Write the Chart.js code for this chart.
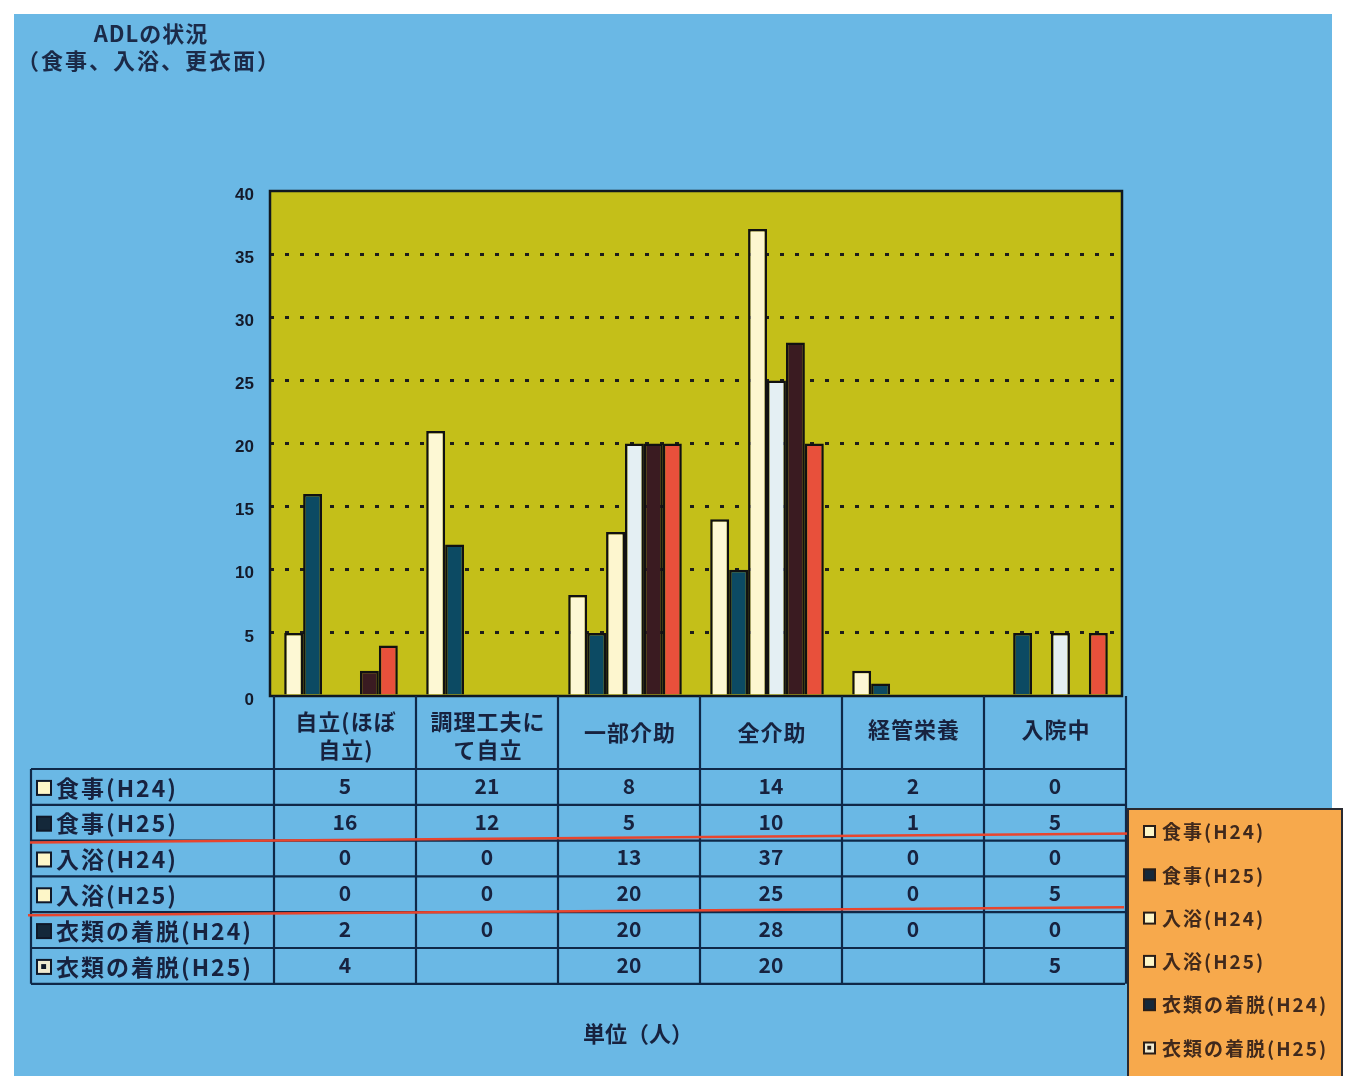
<!DOCTYPE html>
<html>
<head>
<meta charset="utf-8">
<script src="https://cdn.jsdelivr.net/npm/chart.js"></script>
<style>
  body { margin: 0; background: #fff; }
  canvas { display: block; }
</style>
</head>
<body>
<canvas id="chart" width="1354" height="1076"></canvas>
<script>
// categories (header row of the table)
const categories = ['自立(ほぼ自立)', '調理工夫にて自立', '一部介助', '全介助', '経管栄養', '入院中'];
const headerLines = [['自立(ほぼ', '自立)'], ['調理工夫に', 'て自立'], ['一部介助'], ['全介助'], ['経管栄養'], ['入院中']];

// series values (人)
const mealH24 = [5, 21, 8, 14, 2, 0];
const mealH25 = [16, 12, 5, 10, 1, 5];
const bathH24 = [0, 0, 13, 37, 0, 0];
const bathH25 = [0, 0, 20, 25, 0, 5];
const dressH24 = [2, 0, 20, 28, 0, 0];
const dressH25 = [4, null, 20, 20, null, 5];

const seriesLabels = ['食事(H24)', '食事(H25)', '入浴(H24)', '入浴(H25)', '衣類の着脱(H24)', '衣類の着脱(H25)'];
const yTicks = [0, 5, 10, 15, 20, 25, 30, 35, 40];

const colors = ['#fdf8d4', '#0c4a63', '#fdf6cf', '#e4eff3', '#3a1b21', '#e8503b'];
// legend square styles in the table / legend box
const boxColors = ['#fdf6c8', '#14283a', '#fdf6c8', '#fdf6c8', '#14283a', '#f0ead0'];

const ink = '#17223f';
const lineCol = '#0f2848';
const jp = '"Noto Sans CJK JP", "Noto Sans", sans-serif';

const series = [mealH24, mealH25, bathH24, bathH25, dressH24, dressH25];

function marker(ctx, x, y, s, r, stroke) {
  ctx.fillStyle = boxColors[r];
  ctx.fillRect(x, y, s, s);
  ctx.strokeStyle = stroke;
  ctx.lineWidth = 2;
  ctx.strokeRect(x, y, s, s);
  if (r === 5) {
    ctx.fillStyle = stroke;
    ctx.fillRect(x + s * 0.3, y + s * 0.3, s * 0.35, s * 0.35);
  }
}

const decor = {
  id: 'decor',
  beforeDraw(chart) {
    const { ctx, chartArea: a } = chart;
    ctx.save();
    ctx.fillStyle = '#ffffff';
    ctx.fillRect(0, 0, chart.width, chart.height);
    ctx.fillStyle = '#6ab8e5';
    ctx.fillRect(14, 14, 1318, chart.height - 14);
    ctx.fillStyle = '#c4bf19';
    ctx.fillRect(a.left, a.top, a.right - a.left, a.bottom - a.top);
    ctx.restore();
  },
  afterDraw(chart) {
    const { ctx, chartArea: a } = chart;
    const x = chart.scales.x;
    const colW = (a.right - a.left) / categories.length;
    ctx.save();

    // plot frame
    ctx.strokeStyle = '#101820';
    ctx.lineWidth = 2.5;
    ctx.strokeRect(a.left, a.top, a.right - a.left, a.bottom - a.top);

    // title
    ctx.fillStyle = '#1b2a48';
    ctx.textAlign = 'center';
    ctx.textBaseline = 'middle';
    ctx.font = 'bold 22px ' + jp;
    ctx.letterSpacing = '1px';
    ctx.fillText('ADLの状況', 151, 34);
    ctx.letterSpacing = '2px';
    ctx.fillText('（食事、入浴、更衣面）', 149, 61);

    // table
    const headTop = a.bottom;
    const headBottom = 769;
    const rowH = 35.8;
    const labelLeft = 31;
    const tableBottom = headBottom + rowH * series.length;
    const tableRight = a.right + 3;

    ctx.strokeStyle = lineCol;
    ctx.lineWidth = 2.2;
    ctx.beginPath();
    for (let i = 0; i <= categories.length; i++) {
      const cx = a.left + 4 + i * colW;
      ctx.moveTo(cx, headTop);
      ctx.lineTo(cx, tableBottom);
    }
    ctx.moveTo(labelLeft, headBottom);
    ctx.lineTo(labelLeft, tableBottom);
    for (let r = 0; r <= series.length; r++) {
      const y = headBottom + r * rowH;
      ctx.moveTo(labelLeft, y);
      ctx.lineTo(tableRight, y);
    }
    ctx.stroke();

    // header text
    ctx.fillStyle = ink;
    ctx.font = 'bold 22px ' + jp;
    ctx.letterSpacing = '1px';
    headerLines.forEach((lines, i) => {
      const cx = x.getPixelForValue(i) + 5;
      if (lines.length === 2) {
        ctx.fillText(lines[0], cx, 722);
        ctx.fillText(lines[1], cx, 750);
      } else {
        ctx.fillText(lines[0], cx, i >= 4 ? 730 : 733);
      }
    });

    // rows
    series.forEach((vals, r) => {
      const cy = headBottom + r * rowH + rowH / 2 + 1;
      marker(ctx, 37, cy - 7, 14, r, '#101828');
      ctx.fillStyle = ink;
      ctx.font = 'bold 23px ' + jp;
      ctx.letterSpacing = '2px';
      ctx.textAlign = 'left';
      ctx.fillText(seriesLabels[r], 56, cy);
      ctx.textAlign = 'center';
      ctx.letterSpacing = '0px';
      ctx.font = 'bold 21px ' + jp;
      vals.forEach((v, i) => {
        if (v === null) return;
        ctx.fillText(String(v), x.getPixelForValue(i) + 4, cy - 2);
      });
    });

    // red separator lines
    ctx.strokeStyle = '#e8452e';
    ctx.lineWidth = 2.5;
    ctx.beginPath();
    ctx.moveTo(30, headBottom + 2 * rowH + 2);
    ctx.lineTo(1136, headBottom + 2 * rowH - 7);
    ctx.moveTo(28, headBottom + 4 * rowH + 3);
    ctx.lineTo(1124, headBottom + 4 * rowH - 5);
    ctx.stroke();

    // legend box
    ctx.fillStyle = '#f7a94c';
    ctx.fillRect(1128, 809, 214, 280);
    ctx.strokeStyle = '#2a2a30';
    ctx.lineWidth = 2;
    ctx.strokeRect(1128, 809, 214, 280);
    ctx.textAlign = 'left';
    ctx.font = 'bold 19px ' + jp;
    ctx.letterSpacing = '2px';
    seriesLabels.forEach((lab, r) => {
      const cy = 832 + r * 43.3;
      marker(ctx, 1144, cy - 6, 11, r, '#2a1e18');
      ctx.fillStyle = '#40291c';
      ctx.fillText(lab, 1162, cy);
    });

    // unit
    ctx.fillStyle = ink;
    ctx.font = 'bold 22px ' + jp;
    ctx.letterSpacing = '0px';
    ctx.textAlign = 'center';
    ctx.fillText('単位（人）', 638, 1034);

    ctx.restore();
  }
};

new Chart(document.getElementById('chart'), {
  type: 'bar',
  data: {
    labels: categories,
    datasets: series.map((vals, i) => ({
      label: seriesLabels[i],
      data: vals,
      backgroundColor: colors[i],
      borderColor: '#111111',
      borderWidth: 2.5,
      categoryPercentage: 0.8,
      barPercentage: 1.0
    }))
  },
  options: {
    responsive: false,
    animation: false,
    devicePixelRatio: 1,
    layout: { padding: { left: 210, top: 191, right: 232, bottom: 380 } },
    plugins: { legend: { display: false }, tooltip: { enabled: false }, title: { display: false } },
    scales: {
      x: { display: false },
      y: {
        min: 0,
        max: 40,
        afterFit: s => { s.width = 60; },
        afterBuildTicks: s => { s.ticks = yTicks.map(v => ({ value: v })); },
        ticks: {
          color: '#141a2a',
          font: { family: '"Liberation Sans", Arial, sans-serif', size: 17, weight: 'bold' },
          padding: 16,
          labelOffset: 4
        },
        grid: {
          drawTicks: false,
          lineWidth: 3,
          color: c => (c.tick.value === 0 || c.tick.value === 40) ? 'rgba(0,0,0,0)' : '#1e1e1a'
        },
        border: { display: false, dash: [4, 11] }
      }
    }
  },
  plugins: [decor]
});
</script>
</body>
</html>
